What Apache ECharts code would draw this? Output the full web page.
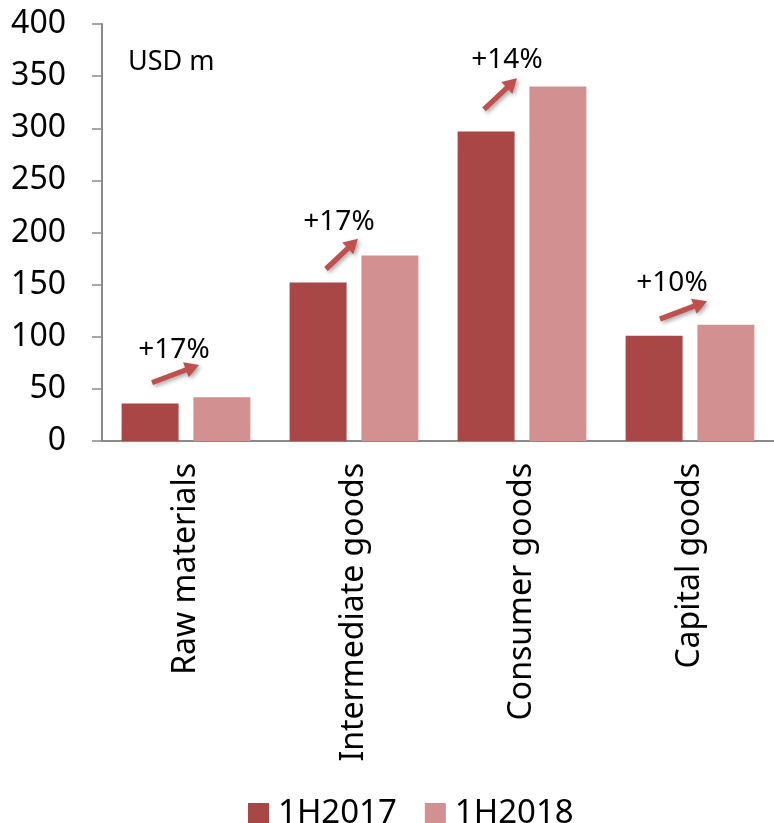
<!DOCTYPE html>
<html>
<head>
<meta charset="utf-8">
<script src="https://cdn.jsdelivr.net/npm/echarts@6/dist/echarts.min.js"></script>
<style>
  html, body { margin: 0; padding: 0; background: #fff; }
  #chart { width: 774px; height: 823px; }
</style>
</head>
<body>
<div id="chart"></div>
<script>
// Imports by product group, USD m
const categories = ['Raw materials', 'Intermediate goods', 'Consumer goods', 'Capital goods'];
const seriesNames = ['1H2017', '1H2018'];
const values2017 = [36, 152, 297, 101];
const values2018 = [42, 178, 340, 111.5];
const yTicks = { min: 0, max: 400, interval: 50 };
const unitLabel = 'USD m';

// Growth callouts: arrow start/end heights and label height (in axis units),
// plus horizontal offsets in pixels from the category centre.
const calloutLevels = [
  { from: 56, to: 73, text: 87 },
  { from: 165, to: 194, text: 210 },
  { from: 318, to: 348, text: 365 },
  { from: 117, to: 134, text: 152 }
];
const calloutOffsets = [
  { from: -34, to: 13, text: -12 },
  { from: -28, to: 4, text: -15 },
  { from: -38, to: -5, text: -15 },
  { from: -30, to: 17, text: -18 }
];

const FONT = '"Noto Sans", "Open Sans", sans-serif';
const DARK = '#A84745';
const LIGHT = '#D29190';
const ARROW = '#C0504D';

const growthText = values2017.map((v, i) =>
  '+' + Math.round((values2018[i] / v - 1) * 100) + '%');

function arrowPoints(x0, y0, x1, y1) {
  const dx = x1 - x0, dy = y1 - y0;
  const len = Math.sqrt(dx * dx + dy * dy);
  const ux = dx / len, uy = dy / len;
  const nx = -uy, ny = ux;
  const shaft = 2.6, head = 8, headLen = 14;
  const bx = x1 - ux * headLen, by = y1 - uy * headLen;
  return [
    [x0 + nx * shaft, y0 + ny * shaft],
    [bx + nx * shaft, by + ny * shaft],
    [bx + nx * head, by + ny * head],
    [x1, y1],
    [bx - nx * head, by - ny * head],
    [bx - nx * shaft, by - ny * shaft],
    [x0 - nx * shaft, y0 - ny * shaft]
  ];
}

const calloutData = categories.map((c, i) => [i]);

const chart = echarts.init(document.getElementById('chart'), null, { renderer: 'canvas' });

chart.setOption({
  animation: false,
  backgroundColor: '#fff',
  textStyle: { fontFamily: FONT },
  title: {
    text: unitLabel,
    left: 123,
    top: 44,
    textStyle: { fontFamily: FONT, fontSize: 27, fontWeight: 'normal', color: '#000' }
  },
  grid: { left: 102, right: -7, top: 24, bottom: 382, containLabel: false },
  legend: {
    data: seriesNames,
    left: 243,
    top: 792,
    icon: 'rect',
    itemWidth: 21,
    itemHeight: 21,
    itemGap: 28,
    textStyle: { fontFamily: FONT, fontSize: 33, color: '#000', lineHeight: 23, padding: [0, 0, 0, 4] }
  },
  xAxis: {
    type: 'category',
    data: categories,
    axisLine: { show: true, lineStyle: { color: '#898989', width: 2 } },
    axisTick: { show: false },
    axisLabel: {
      rotate: 90,
      margin: 22,
      interval: 0,
      fontFamily: FONT,
      fontSize: 32,
      color: '#000'
    },
    splitLine: { show: false }
  },
  yAxis: {
    type: 'value',
    min: yTicks.min,
    max: yTicks.max,
    interval: yTicks.interval,
    axisLine: { show: true, lineStyle: { color: '#898989', width: 2 } },
    axisTick: { show: true, inside: false, length: 10, lineStyle: { color: '#898989', width: 1.5 } },
    axisLabel: { margin: 36, fontFamily: FONT, fontSize: 32, color: '#000' },
    splitLine: { show: false }
  },
  series: [
    {
      name: seriesNames[0],
      type: 'bar',
      data: values2017,
      barWidth: 57,
      barGap: '26%',
      itemStyle: { color: DARK }
    },
    {
      name: seriesNames[1],
      type: 'bar',
      data: values2018,
      barWidth: 57,
      barGap: '26%',
      itemStyle: { color: LIGHT }
    },
    {
      type: 'custom',
      clip: false,
      silent: true,
      z: 5,
      data: calloutData,
      renderItem: function (params, api) {
        const i = api.value(0);
        const lv = calloutLevels[i];
        const off = calloutOffsets[i];
        const a = api.coord([i, lv.from]);
        const b = api.coord([i, lv.to]);
        const t = api.coord([i, lv.text]);
        return {
          type: 'group',
          children: [
            {
              type: 'polygon',
              shape: { points: arrowPoints(a[0] + off.from, a[1], b[0] + off.to, b[1]) },
              style: {
                fill: ARROW,
                shadowColor: 'rgba(0,0,0,0.35)',
                shadowBlur: 4,
                shadowOffsetX: 2,
                shadowOffsetY: 2
              }
            },
            {
              type: 'text',
              style: {
                text: growthText[i],
                x: t[0] + off.text,
                y: t[1],
                align: 'center',
                verticalAlign: 'middle',
                fontFamily: FONT,
                fontSize: 28,
                fill: '#000'
              }
            }
          ]
        };
      }
    }
  ]
});
</script>
</body>
</html>
